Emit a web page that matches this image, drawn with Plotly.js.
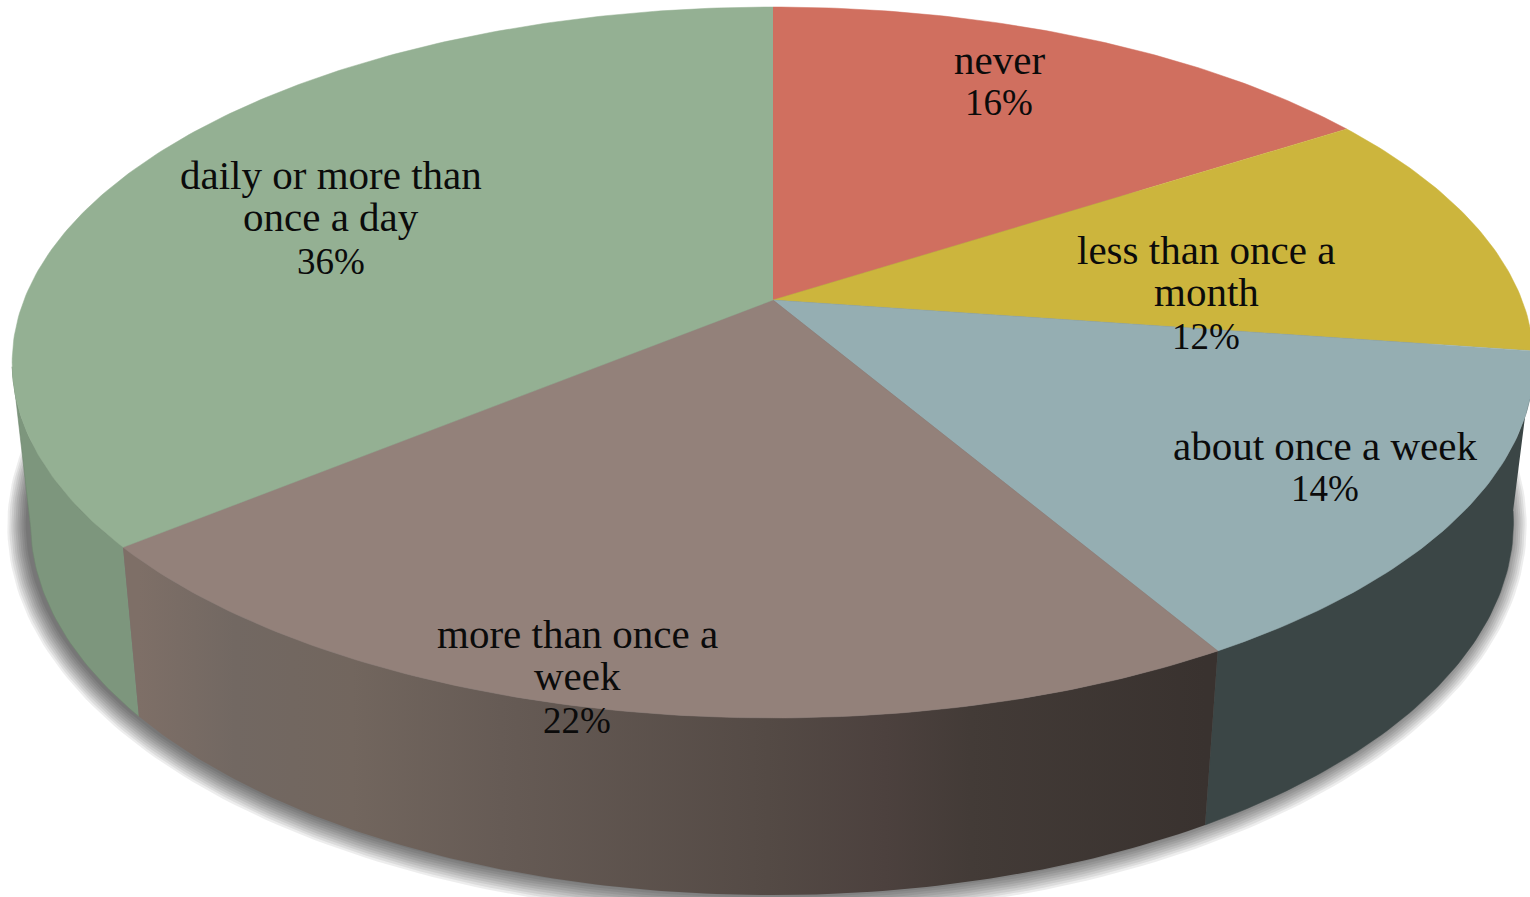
<!DOCTYPE html>
<html>
<head>
<meta charset="utf-8">
<script src="https://cdn.plot.ly/plotly-3.0.1.min.js"></script>
<style>html,body{margin:0;padding:0;background:#fff;overflow:hidden}#chart{width:1530px;height:897px}</style>
</head>
<body>
<div id="chart"></div>
<script>
// Data
const categories = ["never", "less than once a month", "about once a week", "more than once a week", "daily or more than once a day"];
const percentLabels = ["16%", "12%", "14%", "22%", "36%"];
const sliceValues = [15.85, 11.45, 14.3, 22.4, 36];
const labelLines = [["never"], ["less than once a", "month"], ["about once a week"], ["more than once a", "week"], ["daily or more than", "once a day"]];

// Styles
const topColors = ["#D06F5F", "#CCB53D", "#95AEB2", "#93817A", "#94B093"];
const labelX = [999, 1206, 1325, 577, 331];
const labelY = [[60, 102], [250, 292, 336], [446, 488], [634, 676, 720], [175, 217, 261]];
const greenSide = "#7D967D";
const blueSide = "#3B4646";
const brownStops = [[0, "#7E6F67"], [0.09, "#726862"], [0.2, "#72665E"], [0.34, "#665B55"], [0.59, "#544A45"], [0.7, "#4C413E"], [0.78, "#433B37"], [1, "#39322F"]];

// Perspective disc geometry
const TOP = {cx: 773, cy: 300, a: 749, b: 344.5, k: 0.1758};
const RIM = {cx: 772, cy: 457.5, a: 730, b: 361, k: 0.175};
function project(g, f, grow, dx) {
  const t = 2 * Math.PI * f, u = Math.sin(t), v = -Math.cos(t), d = 1 - g.k * v;
  return [g.cx + (dx || 0) + (g.a + (grow || 0)) * u / d, g.cy + (g.b + (grow || 0)) * v / d];
}
function arc(g, f0, f1) {
  const n = Math.max(2, Math.ceil(Math.abs(f1 - f0) * 500)), p = [];
  for (let i = 0; i <= n; i++) p.push(project(g, f0 + (f1 - f0) * i / n));
  return p;
}
const cum = [0];
sliceValues.forEach((s, i) => cum.push(cum[i] + s / 100));

function poly(pts, style) {
  return Object.assign({type: "scatter", mode: "lines", x: pts.map(p => p[0]), y: pts.map(p => p[1]), fill: "toself", hoverinfo: "skip", showlegend: false, line: {width: 0}}, style);
}
const traces = [];

// soft drop shadow
for (let d = 18; d >= 0; d -= 2) {
  const pts = [];
  for (let i = 0; i <= 360; i++) pts.push(project(RIM, i / 360, d, -5));
  traces.push(poly(pts, {fillcolor: "rgba(0,0,0,0.07)"}));
}

// walls
const SIDE_END = 0.72;
traces.push(poly(arc(TOP, cum[4], SIDE_END).concat(arc(RIM, SIDE_END, cum[4])), {fillcolor: greenSide, line: {width: 0.6, color: "#6F866F"}}));
traces.push(poly(arc(TOP, cum[2], cum[3]).concat(arc(RIM, cum[3], cum[2])), {fillcolor: blueSide, line: {width: 0.5, color: blueSide}}));
const p1 = project(RIM, cum[3]), p2 = project(RIM, cum[4]);
traces.push(poly(arc(TOP, cum[3], cum[4]).concat(arc(RIM, cum[4], cum[3])), {
  fillcolor: brownStops[0][1],
  fillgradient: {type: "horizontal", start: p2[0], stop: p1[0], colorscale: brownStops}
}));

// top face
sliceValues.forEach((s, i) => {
  const pts = [[TOP.cx, TOP.cy]].concat(arc(TOP, cum[i], cum[i + 1]));
  traces.push(poly(pts, {fillcolor: topColors[i], line: {width: 0.5, color: topColors[i]}}));
});

// labels, one annotation per line so the line pitch stays as in the reference
const annotations = [];
labelLines.forEach((lines, i) => lines.concat([percentLabels[i]]).forEach((text, j) => annotations.push({
  x: labelX[i], y: labelY[i][j], xref: "x", yref: "y", text, showarrow: false, xanchor: "center", yanchor: "middle",
  font: {family: "'Liberation Serif', serif", size: j < lines.length ? 41 : 37, color: "#0b0b0b"}
})));

Plotly.newPlot("chart", traces, {
  width: 1530, height: 897, margin: {l: 0, r: 0, t: 0, b: 0},
  paper_bgcolor: "#fff", plot_bgcolor: "#fff", showlegend: false,
  xaxis: {range: [0, 1530], visible: false, fixedrange: true},
  yaxis: {range: [897, 0], visible: false, fixedrange: true},
  annotations
}, {displayModeBar: false, staticPlot: true});
</script>
</body>
</html>
